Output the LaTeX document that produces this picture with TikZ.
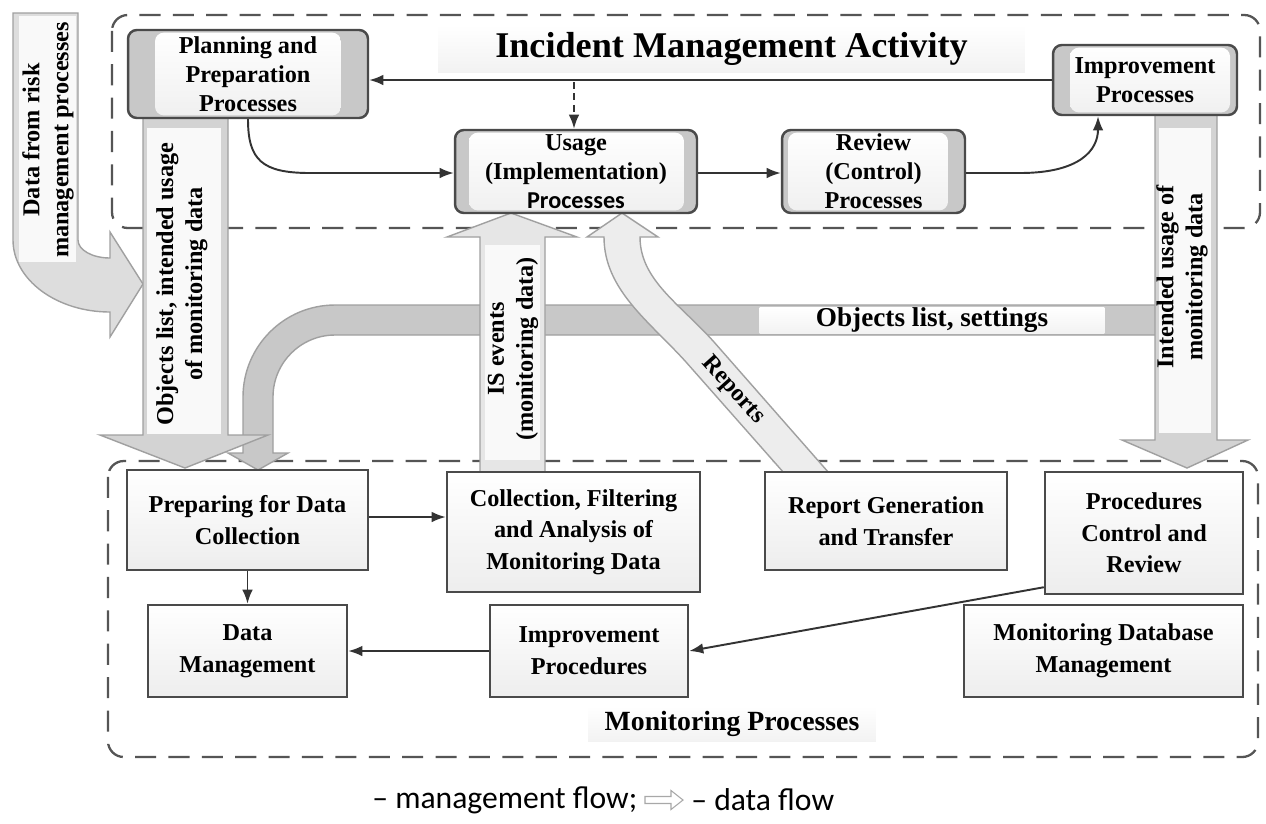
\documentclass[tikz,border=0pt]{standalone}
\usepackage{fontspec}
\setmainfont{Liberation Serif}
\newfontfamily\legendfont{Carlito}
\usetikzlibrary{arrows.meta}
\pgfdeclarelayer{bg}
\pgfdeclarelayer{data}
\pgfsetlayers{bg,data,main}
\definecolor{dashcol}{HTML}{555555}
\definecolor{boxborder}{HTML}{4A4A4A}
\definecolor{bandcol}{HTML}{C8C8C8}
\definecolor{flowcol}{HTML}{333333}
\definecolor{shaftcol}{HTML}{D3D3D3}
\definecolor{databorder}{HTML}{A0A0A0}
\definecolor{panelfill}{HTML}{F9F9F9}
\definecolor{lightfill}{HTML}{E6E6E6}
\definecolor{reportfill}{HTML}{EDEDED}
\definecolor{riskfill}{HTML}{DDDDDD}
\definecolor{iconcol}{HTML}{A8A8A8}
\newcommand\topfont{\bfseries\fontsize{13.8}{16.5}\selectfont}
\newcommand\botfont{\bfseries\fontsize{13.8}{18}\selectfont}
\newcommand\titlefont{\bfseries\fontsize{20.6}{24}\selectfont}
\newcommand\labfont{\bfseries\fontsize{15.8}{18}\selectfont}
\newcommand\setfont{\bfseries\fontsize{15.5}{18}\selectfont}
\newcommand\legfont{\legendfont\fontsize{18}{21}\selectfont}
\tikzset{
  dline/.style={draw=dashcol, line width=1.3pt, dash pattern=on 12pt off 7pt, rounded corners=9pt},
  mflow/.style={draw=flowcol, line width=1.1pt, -{Latex[length=8pt,width=6pt]}},
  dataarrow/.style={draw=databorder, line width=0.8pt, line join=miter},
  txt/.style={align=center, inner sep=0pt},
  topbox/.style 2 args={rounded corners=5pt, draw=boxborder, line width=1.4pt, fill=bandcol,
    txt, font=\topfont,
    path picture={\fill[top color=white, bottom color=gray!12]
      ([xshift=#1,yshift=1.5pt]path picture bounding box.south west) rectangle
      ([xshift=-#2,yshift=-1.5pt]path picture bounding box.north east);}},
  botbox/.style={draw=boxborder, line width=1.4pt, top color=white, bottom color=gray!14,
    txt, font=\botfont},
  panelnode/.style={txt, top color=white, bottom color=gray!10}
}
\begin{document}
\begin{tikzpicture}[x=0.02cm,y=-0.02cm]
\useasboundingbox (0,0) rectangle (1266,823);

% ---------- dashed frames ----------
\begin{pgfonlayer}{bg}
\fill[white] (0,0) rectangle (1266,823);
\draw[dline] (112,15) rectangle (1260,228);
\draw[dline] (108,461) rectangle (1258,757);
\end{pgfonlayer}

% ---------- process boxes (top) ----------
\node[topbox={0.54cm}{0.54cm}, minimum width=4.8cm, minimum height=1.76cm] (plan) at (248,74)
  {Planning and\\Preparation\\Processes};
\node[topbox={0.28cm}{0.26cm}, minimum width=4.84cm, minimum height=1.66cm] (use) at (576,171.5)
  {Usage\\(Implementation)\\{\legendfont\bfseries Processes}};
\node[topbox={0.12cm}{0.34cm}, minimum width=3.66cm, minimum height=1.66cm] (rev) at (873.5,171.5)
  {Review\\(Control)\\Processes};
\node[topbox={0.34cm}{0.14cm}, minimum width=3.68cm, minimum height=1.4cm] (impr) at (1145,80)
  {Improvement\\Processes};
\node[panelnode, font=\titlefont, minimum width=11.74cm, minimum height=0.94cm] (title) at (731.5,48.5)
  {Incident Management Activity};

% ---------- process boxes (bottom) ----------
\node[botbox, minimum width=4.82cm, minimum height=2cm] (prep) at (247.5,520)
  {Preparing for Data\\Collection};
\node[botbox, minimum width=5.06cm, minimum height=2.4cm] (coll) at (573.5,532)
  {Collection, Filtering\\and Analysis of\\Monitoring Data};
\node[botbox, minimum width=4.84cm, minimum height=1.96cm] (rep) at (886,521)
  {Report Generation\\and Transfer};
\node[botbox, minimum width=3.96cm, minimum height=2.44cm] (proc) at (1144,533)
  {Procedures\\Control and\\Review};
\node[botbox, minimum width=3.98cm, minimum height=1.84cm] (dm) at (247.5,651)
  {Data\\Management};
\node[botbox, minimum width=3.96cm, minimum height=1.84cm] (impp) at (589,651)
  {Improvement\\Procedures};
\node[botbox, minimum width=5.58cm, minimum height=1.84cm] (mdb) at (1103.5,651)
  {Monitoring Database\\Management};
\node[panelnode, font=\labfont, minimum width=5.76cm, minimum height=0.7cm] (mon) at (732,724)
  {Monitoring Processes};

% ---------- data flow (block arrows) ----------
\begin{pgfonlayer}{data}
% objects list, settings (curved band)
\draw[dataarrow, fill=bandcol] (1160,305) -- (335,305)
  .. controls (284.2,305) and (243,346.2) .. (243,397) -- (243,453) -- (228,453) -- (258,470)
  -- (288,453) -- (273,453) -- (273,397)
  .. controls (273,362.8) and (300.8,335) .. (335,335) -- (1160,335) -- cycle;
% IS events
\draw[dataarrow, fill=lightfill] (480,472) -- (480,237) -- (447,237) -- (511,213) -- (577,237)
  -- (545,237) -- (545,472);
\fill[panelfill] (485,245) rectangle (540,460);
% Reports
\draw[dataarrow, fill=reportfill] (784,473) -- (686,362) .. controls (650,322) and (604,290) .. (604,237)
  -- (587,237) -- (622,213) -- (658,237) -- (640,237)
  .. controls (640,280) and (680,304) .. (714,342) -- (829,473) -- cycle;
% data from risk management
\draw[dataarrow, fill=riskfill] (13,13) -- (78,13) -- (78,240)
  .. controls (78,250) and (92.3,258) .. (110,258) -- (110,232) -- (143,284) -- (110,337) -- (110,312)
  .. controls (56.5,312) and (13,279.7) .. (13,240) -- cycle;
\fill[panelfill] (19,16) rectangle (76,262);
% objects list, intended usage
\draw[dataarrow, fill=shaftcol] (143,117) -- (143,435) -- (100,435) -- (185,468) -- (268,435)
  -- (228,435) -- (228,117);
\fill[panelfill] (147,128) rectangle (221,434);
% intended usage of monitoring data
\draw[dataarrow, fill=shaftcol] (1155,114) -- (1155,440) -- (1122,440) -- (1187,468) -- (1248,440)
  -- (1217,440) -- (1217,114);
\fill[panelfill] (1159,128) rectangle (1211,433);
\end{pgfonlayer}

% ---------- data flow labels ----------
\node[txt, font=\topfont, rotate=90] (risktxt) at (48,140) {Data from risk\\management processes};
\node[txt, font=\topfont, rotate=90] (objtxt) at (182,284) {Objects list, intended usage\\of monitoring data};
\node[txt, font=\topfont, rotate=90] (istxt) at (513,349) {IS events\\(monitoring data)};
\node[txt, font=\topfont, rotate=90] (inttxt) at (1182,277) {Intended usage of\\monitoring data};
\node[txt, font=\topfont, rotate=-48] (reptxt) at (733,390) {Reports};
\node[panelnode, font=\setfont, minimum width=6.9cm, minimum height=0.52cm] (objset) at (932,320)
  {Objects list, settings};

% ---------- management flow ----------
\draw[mflow] (impr.west) -- (impr.west -| plan.east);
\coordinate (dtop) at (574,82);
\draw[draw=flowcol, line width=1.1pt, dash pattern=on 4pt off 2.5pt, -{Latex[length=8pt,width=6pt]}]
  (dtop) -- (dtop |- use.north);
\draw[mflow] (plan.south) .. controls (248,160) and (262,173) .. (310,173) -- (use.west |- 0,173);
\draw[mflow] (use.east |- 0,173) -- (rev.west |- 0,173);
\draw[mflow] (rev.east |- 0,173) -- (1020,173) .. controls (1080,173) and (1098,150) .. ([xshift=-0.94cm]impr.south);
\draw[mflow] (prep.east |- 0,517) -- (coll.west |- 0,517);
\draw[mflow] (prep.south) -- (dm.north);
\draw[mflow] ([yshift=0.16cm]proc.south west) -- (impp.east);
\draw[mflow] (impp.west) -- (dm.east);

% ---------- legend ----------
\node[anchor=west, inner sep=0pt, font=\legfont] (leg1) at (372,800) {– management flow;};
\coordinate (icon) at (645,800);
\draw[draw=iconcol, line width=0.6pt, fill=white] ([shift={(0,-3.5)}]icon) -- ++(26,0) -- ++(0,-6)
  -- ++(12,9.5) -- ++(-12,9.5) -- ++(0,-6) -- ++(-26,0) -- cycle;
\node[anchor=west, inner sep=0pt, font=\legfont] (leg2) at (691,800) {– data flow};
\end{tikzpicture}
\end{document}
